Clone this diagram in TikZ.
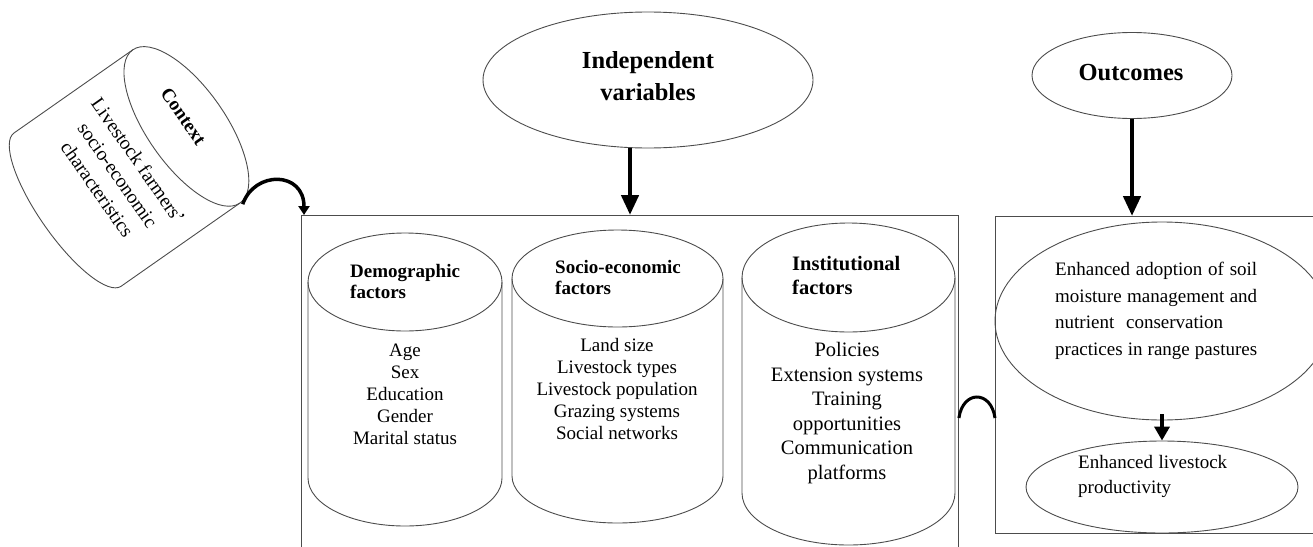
\documentclass[tikz,border=0pt]{standalone}
\usepackage{fontspec}
\setmainfont{Liberation Serif}
\usetikzlibrary{arrows.meta,shapes.geometric,calc}

% upright barrel: centre x, radius, top-cap y, top-cap half height, base y, base half height
\newcommand{\barrel}[6]{%
  \draw[outline] (#1-#2,#3) -- (#1-#2,#5)
    arc[start angle=180,end angle=360,x radius=#2pt,y radius=#6pt] -- (#1+#2,#3);
  \draw[outline] (#1,#3) ellipse[x radius=#2pt,y radius=#4pt];
}

\begin{document}
\begin{tikzpicture}[x=1pt,y=-1pt,
  outline/.style={draw=black!70,line width=0.9pt},
  oval/.style={ellipse,draw=black!70,line width=0.9pt,inner sep=0pt},
  frame/.style={draw=black!70,line width=0.9pt,inner sep=0pt,anchor=north west},
  bigarrow/.style={line width=4.5pt,-{Triangle[width=17pt,length=20pt]}},
  smallarrow/.style={line width=4pt,-{Triangle[width=15pt,length=14pt]}},
  hook/.style={line width=3.5pt,-{Triangle[width=11pt,length=9pt]}},
  item/.style={font=\fontsize{19}{22}\selectfont,align=center,inner sep=0pt},
  hdr/.style={font=\bfseries\fontsize{19}{21}\selectfont,align=left,inner sep=0pt,anchor=west},
  title/.style={font=\bfseries\fontsize{24.5}{32}\selectfont,align=center,inner sep=0pt},
  body/.style={font=\fontsize{19}{26.5}\selectfont,align=left,inner sep=0pt,anchor=west}]

\useasboundingbox (0,0) rectangle (1313,546);
\clip (0,0) rectangle (1313,546);

% ---- context barrel, tipped over ----
\begin{scope}[shift={(127,168)},rotate=-55]
  \draw[outline] (-93.5pt,72.5pt) -- (-93.5pt,-72.5pt)
    arc[start angle=180,end angle=360,x radius=93.5pt,y radius=28pt] -- (93.5pt,72.5pt);
  \draw[outline] (0pt,72.5pt) ellipse[x radius=93.5pt,y radius=39pt];
  \node[transform shape,font=\bfseries\fontsize{19}{22}\selectfont,inner sep=0pt] (context) at (-9.8pt,75.8pt) {Context};
  \node[transform shape,font=\fontsize{19.5}{25}\selectfont,align=center,inner sep=0pt] (ctxtext) at (0.5pt,-11.4pt)
    {Livestock farmers’\\socio-economic\\characteristics};
  \coordinate (ctxend) at (96pt,74pt);
\end{scope}

% ---- independent variables ----
\node[oval,minimum width=330pt,minimum height=136pt] (indep) at (648,80) {};
\node[title] (indeptext) at (648,76) {Independent\\variables};

\node[frame,minimum width=657pt,minimum height=345pt] (mainbox) at (301,215) {};

\barrel{405}{97}{282}{49}{478}{48}
\barrel{617.5}{105.5}{278.5}{48.5}{476}{47}
\barrel{848.5}{106.5}{277.5}{54.5}{493}{52}

\node[hdr] (demohead) at (350,281) {Demographic\\factors};
\node[item] (demoitems) at (405,394) {Age\\Sex\\Education\\Gender\\Marital status};

\node[hdr] (sochead) at (555,277) {Socio-economic\\factors};
\node[item] (socitems) at (617,389) {Land size\\Livestock types\\Livestock population\\Grazing systems\\Social networks};

\node[hdr,font=\bfseries\fontsize{20.5}{24}\selectfont] (insthead) at (792,275) {Institutional\\factors};
\node[item,font=\fontsize{20.5}{24.6}\selectfont] (institems) at (847,413)
  {Policies\\Extension systems\\Training\\opportunities\\Communication\\platforms};

% ---- outcomes ----
\node[oval,minimum width=200pt,minimum height=86pt] (outcomes) at (1132,75.5) {};
\node[title] (outtext) at (1131,73) {Outcomes};

\node[frame,minimum width=340pt,minimum height=317pt] (rbox) at (995,216) {};

\node[oval,minimum width=334pt,minimum height=198pt] (adopt) at (1162,321) {};
\node[body] (adopttext) at (1055,311)
  {\makebox[202pt][s]{Enhanced adoption of soil}\\
   \makebox[202pt][s]{moisture management and}\\
   \makebox[168pt][s]{nutrient conservation}\\
   \makebox[202pt][s]{practices in range pastures}};

\node[oval,minimum width=272pt,minimum height=92pt] (prod) at (1162,487) {};
\node[body,font=\fontsize{19}{25}\selectfont] (prodtext) at (1078,476)
  {\makebox[149pt][s]{Enhanced livestock}\\productivity};

% ---- connectors ----
\draw[bigarrow] ([xshift=-18pt]indep.south) -- ([xshift=-18pt]indep.south |- mainbox.north);
\draw[bigarrow] (outcomes.south) -- (outcomes.south |- rbox.north);
\draw[smallarrow] ([yshift=6pt]adopt.south) -- (prod.north);
\draw[hook] (ctxend) .. controls +(12,-34) and +(0,-44) .. ([xshift=3pt]mainbox.north west);
\draw[line width=3pt] ($(mainbox.north east)+(0,203)$) .. controls +(4,-28) and +(-4,-28) .. ($(rbox.north west)+(0,202)$);

\end{tikzpicture}
\end{document}
